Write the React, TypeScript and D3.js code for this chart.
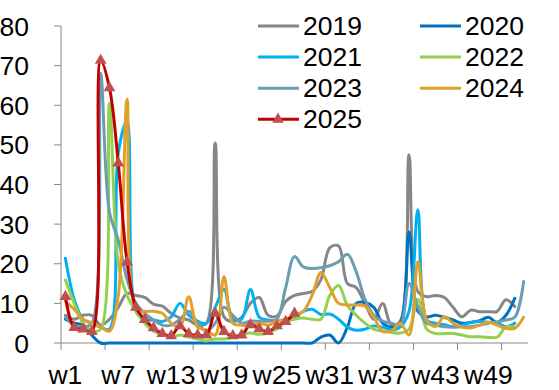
import React from "react";
import * as d3 from "d3";

const weeks: string[] = Array.from({ length: 53 }, (_, i) => `w${i + 1}`);
const tickLabels = ["w1", "w7", "w13", "w19", "w25", "w31", "w37", "w43", "w49"];
const yTicks = [0, 10, 20, 30, 40, 50, 60, 70, 80];

const s2019 = [7, 6, 7, 7, 4.5, 6, 9, 12.5, 12, 11.5, 9.8, 9.3, 7.5, 6.3, 5.8, 4.5, 5, 50.5, 6.6, 5.4, 6.5, 10, 11.5, 7, 6.8, 10.5, 12, 12.5, 13, 16, 24, 24.5, 15, 14, 10, 6, 10, 4.5, 5.5, 47.5, 13, 11.7, 12, 11.5, 9, 6.6, 8.3, 7.9, 7.9, 8, 10.9, 9.2];
const s2020 = [6, 5, 4.5, 2, 0, 0, 0, 0, 0, 0, 0, 0, 0, 0, 0, 0, 0, 0, 0, 0, 0, 0, 0, 0, 0, 0, 0, 0, 0, 1.5, 2, 0, 4, 10, 10.2, 9, 5, 4, 5, 28, 8, 6.6, 7, 6.5, 5.8, 5, 5.2, 5.6, 6.5, 5.2, 7, 11.3];
const s2021 = [21.4, 11, 6, 5, 4, 3.5, 48, 56, 8, 6, 5.8, 5.4, 6.6, 10, 7, 5.5, 5, 9, 13.5, 6, 6, 13.5, 6.5, 5.8, 5.6, 5.8, 6.5, 8, 8.5, 7.2, 7.3, 6, 4, 3.2, 3.5, 4.3, 4, 3.3, 4, 8, 33.6, 5.8, 5, 4.6, 4.1, 4.5, 5.2, 5.4, 5.2, 5, 4.1, 5];
const s2022 = [15.9, 10, 5, 3, 3.5, 60.5, 20, 12, 8, 5, 3, 2.2, 1.5, 2, 1.5, 1, 0.5, 1, 1, 1.5, 2, 2.5, 2.2, 2.5, 3.6, 5.3, 6, 6.3, 6, 6, 12, 14.5, 9.5, 7, 5, 3.5, 3, 2.7, 2.5, 3.5, 11, 3.5, 2.4, 2.4, 2.4, 2, 1.6, 1.6, 1.4, 1.5, 4, 4];
const s2023 = [6.6, 4.5, 4, 5, 68, 33, 26, 16, 10, 7.5, 5.8, 4.5, 4.5, 6, 8, 5, 3, 5, 9, 7, 5, 5.5, 5.5, 5.5, 6, 14, 21.8, 19.2, 18.8, 19, 19.5, 20.5, 22.4, 18, 11, 7, 5.5, 5, 4.5, 15, 9, 5, 4.5, 4.1, 4, 4.1, 4.1, 4.5, 5, 5.3, 5.8, 6.5, 15.5];
const s2024 = [10.5, 8.5, 6, 5, 4, 3, 12, 61.5, 8.5, 8, 8, 7.5, 5, 4, 11.7, 4, 3.3, 2, 16.7, 5, 4.5, 4.5, 5, 4.5, 5.5, 6, 7, 8, 12, 17.8, 14, 10, 9.6, 9.6, 9.3, 6.5, 3, 3, 5, 2, 20.5, 5.8, 4.2, 6.6, 5, 4, 3.8, 4.5, 5.3, 4.5, 3.7, 3.7, 6.5];
const s2025 = [11.7, 3.9, 3.5, 2.9, 71.3, 64.4, 45.4, 20.4, 9, 5.9, 3.8, 2.4, 1.8, 4.3, 2.3, 2, 2, 7.5, 2.9, 1.8, 2, 4.6, 3.6, 2.9, 4.3, 5.4, 7.5];

const seriesNames = ["2019", "2020", "2021", "2022", "2023", "2024", "2025"];
const seriesValues = [s2019, s2020, s2021, s2022, s2023, s2024, s2025];
const seriesColors = ["#868686", "#0070C0", "#00B0F0", "#92D050", "#6C9CB4", "#E1A02A", "#C00000"];
const markerColor = "#C0504D";

const W = 559;
const H = 390;
const left = 61;
const right = 528;
const top = 26;
const bottom = 343;
const font = "'Liberation Sans', Arial, sans-serif";
const fs = 26.5;
const axisColor = "#888888";

export default function App() {
  const x = d3.scaleBand<string>().domain(weeks).range([left, right]).paddingInner(0).paddingOuter(0);
  const bw = x.bandwidth();
  const cx = (i: number) => (x(weeks[i]) as number) + bw / 2;
  const y = d3.scaleLinear().domain([0, 80]).range([bottom, top]);

  const line = d3
    .line<number>()
    .x((_, i) => cx(i))
    .y((d) => y(d))
    .curve(d3.curveCatmullRom.alpha(0.5));

  const tri = d3.symbol().type(d3.symbolTriangle).size(60)();

  const xTickIdx = d3.range(0, weeks.length + 1, 5);

  const legendCols = [258, 420];
  const legendRow0 = 26;
  const legendStep = 31.1;

  return (
    <svg width={W} height={H} style={{ position: "absolute", left: 0, top: 0, background: "#fff" }}>
      <line x1={left} x2={left} y1={top} y2={bottom} stroke={axisColor} strokeWidth={1} />
      {yTicks.map((t) => (
        <g key={"yt" + t}>
          <line x1={left - 7} x2={left} y1={y(t)} y2={y(t)} stroke={axisColor} strokeWidth={1} />
          <text x={29} y={y(t) + 9.6} textAnchor="end" fontFamily={font} fontSize={fs} fill="#000">
            {t}
          </text>
        </g>
      ))}
      <line x1={left} x2={right} y1={bottom} y2={bottom} stroke={axisColor} strokeWidth={1} />
      {xTickIdx.map((k) => {
        const xx = left + k * bw;
        return <line key={"xt" + k} x1={xx} x2={xx} y1={bottom} y2={bottom + 7} stroke={axisColor} strokeWidth={1} />;
      })}
      {tickLabels.map((lab) => (
        <text
          key={lab}
          x={(x(lab) as number) + bw / 2}
          y={384}
          textAnchor="middle"
          fontFamily={font}
          fontSize={fs}
          fill="#000"
        >
          {lab}
        </text>
      ))}

      {seriesValues.map((vals, si) => (
        <path
          key={seriesNames[si]}
          d={line(vals) || ""}
          fill="none"
          stroke={seriesColors[si]}
          strokeWidth={3}
          strokeLinejoin="round"
          strokeLinecap="round"
        />
      ))}
      {s2025.map((v, i) => (
        <path key={"m" + i} d={tri || ""} transform={`translate(${cx(i)},${y(v)})`} fill={markerColor} />
      ))}

      {seriesNames.map((name, i) => {
        const col = i % 2;
        const row = Math.floor(i / 2);
        const lx = legendCols[col];
        const ly = legendRow0 + row * legendStep;
        return (
          <g key={"lg" + name}>
            <line x1={lx} x2={lx + 41} y1={ly} y2={ly} stroke={seriesColors[i]} strokeWidth={3} />
            {name === "2025" && <path d={tri || ""} transform={`translate(${lx + 20},${ly})`} fill={markerColor} />}
            <text x={lx + 45} y={ly + 8.5} fontFamily={font} fontSize={fs} fill="#000">
              {name}
            </text>
          </g>
        );
      })}
    </svg>
  );
}
